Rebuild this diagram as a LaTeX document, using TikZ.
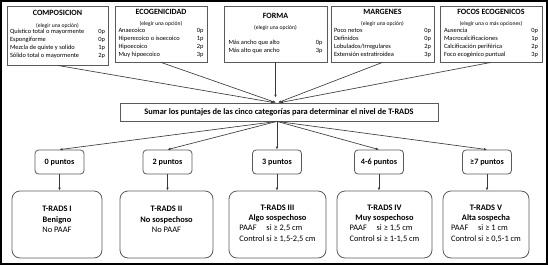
\documentclass[tikz,border=0pt]{standalone}
\usepackage{fontspec}
\setmainfont{Carlito}
\usetikzlibrary{arrows.meta, positioning}
\definecolor{boxgray}{HTML}{5A5A5A}
\definecolor{linegray}{HTML}{3A3A3A}
\newcommand{\crithead}[2]{{\fontsize{8}{9}\selectfont\bfseries #1}\\[-0.5pt]{\fontsize{5.6}{7}\selectfont #2}\\[-1pt]}
\newcommand{\optlist}[2]{{\fontsize{6.4}{8}\selectfont\begin{tabular*}{#1}{@{}l@{\extracolsep{\fill}}r@{}}#2\end{tabular*}}}

\begin{document}
\begin{tikzpicture}[
  x=1pt, y=-1pt,
  crit/.style={draw=boxgray, line width=0.8pt, inner sep=2pt, align=center, minimum height=56pt},
  sumbox/.style={draw=boxgray, line width=0.8pt, minimum width=318pt, minimum height=18pt, font=\fontsize{8.4}{10}\selectfont\bfseries},
  score/.style={draw=boxgray, line width=0.8pt, rounded corners=3.5pt, minimum width=49pt, minimum height=24pt, font=\fontsize{8.2}{10}\selectfont\bfseries},
  level/.style={draw=boxgray, line width=0.8pt, rounded corners=8pt, minimum height=67pt, align=center, font=\fontsize{8.4}{10.5}\selectfont},
  arr/.style={draw=linegray, line width=0.65pt, -{Latex[length=3pt, width=2.6pt]}}
]
\useasboundingbox (0,0) rectangle (548,265);
\draw[line width=1.6pt] (1,1) rectangle (547,264);

% five criteria
\node[crit, minimum width=101pt, minimum height=59pt] (comp) at (57.5,35.5) {\crithead{COMPOSICION}{(elegir una opción)}\optlist{95pt}{Quístico total o mayormente & 0p\\ Espongiforme & 0p\\ Mezcla de quiste y solido & 1p\\ Sólido total o mayormente & 2p}};
\node[crit, minimum width=92pt] (ecog) at (161,34) {\crithead{ECOGENICIDAD}{(elegir una opción)}\optlist{85pt}{Anaecoico & 0p\\ Hiperecoico o isoecoico & 1p\\ Hipoecoico & 2p\\ Muy hipoecoico & 3p}};
\node[crit, minimum width=103pt] (forma) at (275.5,34) {\crithead{FORMA}{(elegir una opción)}\\[-4pt]\optlist{94pt}{Más ancho que alto & 0p\\ Más alto que ancho & 3p}};
\node[crit, minimum width=103pt] (marg) at (382.5,34) {\crithead{MARGENES}{(elegir una opción)}\optlist{97pt}{Poco netos & 0p\\ Definidos & 0p\\ Lobulados/Irregulares & 2p\\ Extensión extratiroidea & 3p}};
\node[crit, minimum width=102pt] (focos) at (491,34) {\crithead{FOCOS ECOGENICOS}{(elegir una o más opciones)}\optlist{94pt}{Ausencia & 0p\\ Macrocalcificaciones & 1p\\ Calcificación periférica & 2p\\ Foco ecogénico puntual & 3p}};

\node[sumbox] (sum) at (279,112) {Sumar los puntajes de las cinco categorías para determinar el nivel de T-RADS};

% scores
\node[score] (p0) at (59.5,162) {0 puntos};
\node[score] (p2) at (167.5,162) {2 puntos};
\node[score] (p3) at (277,162) {3 puntos};
\node[score] (p46) at (379,162) {4-6 puntos};
\node[score] (p7) at (487,162) {≥7 puntos};

% levels
\node[level, minimum width=90pt] (t1) at (57,224.5) {\textbf{T-RADS I}\\ \textbf{Benigno}\\ No PAAF\\ \mbox{}};
\node[level, minimum width=93pt] (t2) at (166.5,224.5) {\textbf{T-RADS II}\\ \textbf{No sospechoso}\\ No PAAF\\ \mbox{}};
\node[level, minimum width=97pt] (t3) at (277.5,224.5) {\textbf{T-RADS III}\\ \textbf{Algo sospechoso}\\ \begin{tabular}{@{}l@{\ }l@{}}PAAF & si ≥ 2,5 cm\\ Control & si ≥ 1,5-2,5 cm\end{tabular}};
\node[level, minimum width=95pt] (t4) at (384.5,224.5) {\textbf{T-RADS IV}\\ \textbf{Muy sospechoso}\\ \begin{tabular}{@{}l@{\ }l@{}}PAAF & si ≥ 1,5 cm\\ Control & si ≥ 1-1,5 cm\end{tabular}};
\node[level, minimum width=86pt] (t5) at (486,224.5) {\textbf{T-RADS V}\\ \textbf{Alta sospecha}\\ \begin{tabular}{@{}l@{\ }l@{}}PAAF & si ≥ 1 cm\\ Control & si ≥ 0,5-1 cm\end{tabular}};

\draw[arr] (comp.south) -- ([xshift=-5pt]sum.north);
\draw[arr] (ecog.south) -- ([xshift=-3pt]sum.north);
\draw[arr, shorten >=5pt] (forma.south) -- (forma.south |- sum.north);
\draw[arr] (marg.south) -- ([xshift=-1pt]sum.north);
\draw[arr] (focos.south) -- ([xshift=1pt]sum.north);

\draw[arr] ([xshift=-2pt]sum.south) -- (p0.north);
\draw[arr] ([xshift=-2pt]sum.south) -- (p2.north);
\draw[arr] ([xshift=-2pt]sum.south) -- (p3.north);
\draw[arr] ([xshift=-2pt]sum.south) -- (p46.north);
\draw[arr] ([xshift=-2pt]sum.south) -- (p7.north);

\draw[arr] (p0.south) -- (p0.south |- t1.north);
\draw[arr] (p2.south) -- (p2.south |- t2.north);
\draw[arr] (p3.south) -- (p3.south |- t3.north);
\draw[arr] (p46.south) -- (p46.south |- t4.north);
\draw[arr] (p7.south) -- (p7.south |- t5.north);
\end{tikzpicture}
\end{document}
